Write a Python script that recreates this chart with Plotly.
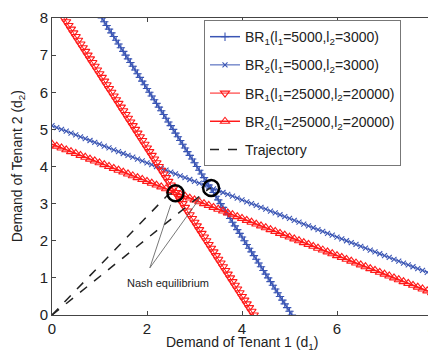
import numpy as np
import plotly.graph_objects as go

# Best-response lines
# BR1: d1 = a1 - b1*d2 ; BR2: d2 = a2 - b2*d1
br1_low = {"a": 5.05, "b": 0.5}     # l1=5000,l2=3000
br2_low = {"a": 5.1, "b": 0.5}
br1_high = {"a": 4.25, "b": 0.5}    # l1=25000,l2=20000
br2_high = {"a": 4.6, "b": 0.5}

grid = np.round(np.arange(0, 8.0001, 0.1), 3)

nash_low = (3.35, 3.42)
nash_high = (2.6, 3.28)

traj_high_x = [0, 2.45, 2.6]
traj_high_y = [0, 3.25, 3.28]
traj_low_x = [0, 3.3, 3.35]
traj_low_y = [0, 3.4, 3.42]

x_ticks = [0, 2, 4, 6, 8]
y_ticks = [0, 1, 2, 3, 4, 5, 6, 7, 8]

BLUE = "#3a55b4"
RED = "#ff1a1a"

fig = go.Figure()

fig.add_trace(go.Scatter(
    x=br1_low["a"] - br1_low["b"] * grid, y=grid, mode="lines+markers",
    line=dict(color=BLUE, width=1.5), legendgroup="a",
    marker=dict(symbol="cross-thin-open", size=6, color=BLUE, line=dict(color=BLUE, width=1.1)),
    name="BR<sub>1</sub>(l<sub>1</sub>=5000,l<sub>2</sub>=3000)"))
fig.add_trace(go.Scatter(
    x=grid, y=br2_low["a"] - br2_low["b"] * grid, mode="lines+markers",
    line=dict(color=BLUE, width=1), legendgroup="b",
    marker=dict(symbol="x-thin-open", size=5, color=BLUE, line=dict(color=BLUE, width=1.1)),
    name="BR<sub>2</sub>(l<sub>1</sub>=5000,l<sub>2</sub>=3000)"))
fig.add_trace(go.Scatter(
    x=br1_high["a"] - br1_high["b"] * grid, y=grid, mode="lines+markers",
    line=dict(color=RED, width=1), legendgroup="c",
    marker=dict(symbol="triangle-down-open", size=8, color=RED, line=dict(color=RED, width=1.1)),
    name="BR<sub>1</sub>(l<sub>1</sub>=25000,l<sub>2</sub>=20000)"))
fig.add_trace(go.Scatter(
    x=grid, y=br2_high["a"] - br2_high["b"] * grid, mode="lines+markers",
    line=dict(color=RED, width=1.5), legendgroup="d",
    marker=dict(symbol="triangle-up-open", size=8, color=RED, line=dict(color=RED, width=1.1)),
    name="BR<sub>2</sub>(l<sub>1</sub>=25000,l<sub>2</sub>=20000)"))
fig.add_trace(go.Scatter(
    x=traj_high_x, y=traj_high_y, mode="lines", legendgroup="e",
    line=dict(color="#222222", width=1.5, dash="dash"),
    name="Trajectory"))
fig.add_trace(go.Scatter(
    x=traj_low_x, y=traj_low_y, mode="lines", legendgroup="e",
    line=dict(color="#222222", width=1.5, dash="dash"),
    showlegend=False))
fig.add_trace(go.Scatter(
    x=[nash_high[0], nash_low[0]], y=[nash_high[1], nash_low[1]], mode="markers",
    marker=dict(symbol="circle-open", size=16, color="black", line=dict(color="black", width=2.5)),
    showlegend=False))

# annotation leader lines
for nx, ny in [(2.5, 2.97), (3.12, 3.16)]:
    fig.add_shape(type="line", x0=2.06, y0=1.27, x1=nx, y1=ny,
                  line=dict(color="#555555", width=0.8))
fig.add_annotation(x=2.44, y=0.86, text="Nash equilibrium", showarrow=False,
                   font=dict(size=11, color="#222222"))

# axis titles as paper annotations
fig.add_annotation(xref="paper", yref="paper", x=0.5, y=-0.094, yanchor="middle",
                   xanchor="center", showarrow=False,
                   text="Demand of Tenant 1 (d<sub>1</sub>)", font=dict(size=14, color="#222222"))
fig.add_annotation(xref="paper", yref="paper", x=-0.09, y=0.5, xanchor="center",
                   yanchor="middle", showarrow=False, textangle=-90,
                   text="Demand of Tenant 2 (d<sub>2</sub>)", font=dict(size=14, color="#222222"))

axis_common = dict(showgrid=False, zeroline=False, showline=True, linecolor="#444444",
                   linewidth=1, mirror="ticks", ticks="inside", ticklen=4,
                   tickcolor="#444444", tickfont=dict(size=15, color="#222222"),
                   automargin=False, ticklabeloverflow="allow")

fig.update_layout(
    width=436, height=352,
    margin=dict(l=44, r=12, t=10, b=45, autoexpand=False),
    paper_bgcolor="white", plot_bgcolor="white",
    font=dict(family="Liberation Sans, Arial, sans-serif", color="#222222"),
    xaxis=dict(range=[0, 8], tickvals=x_ticks, **axis_common),
    yaxis=dict(range=[0, 8], tickvals=y_ticks, **axis_common),
    legend=dict(x=0.40, y=0.993, xanchor="left", yanchor="top",
                bgcolor="white", bordercolor="#777777", borderwidth=1,
                font=dict(size=14, color="#222222"), tracegroupgap=7,
                itemwidth=30),
    showlegend=True,
)

fig.write_html("out.html")
